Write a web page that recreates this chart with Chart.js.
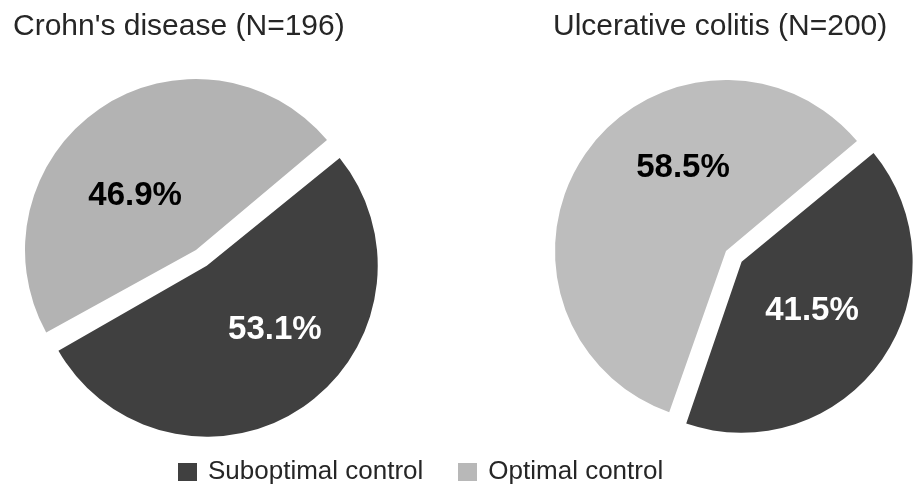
<!DOCTYPE html>
<html>
<head>
<meta charset="utf-8">
<script src="https://cdn.jsdelivr.net/npm/chart.js@4"></script>
<style>
  html, body { margin: 0; padding: 0; background: #ffffff; }
  #figure { position: relative; width: 917px; height: 484px; overflow: hidden;
            font-family: "Liberation Sans", Arial, sans-serif; color: #262626; }
  .panel { position: absolute; top: 0; }
  .panel-title { position: absolute; top: 10px; font-size: 30px; line-height: 30px; white-space: nowrap; }
  #legend { position: absolute; top: 457px; left: 178px; display: flex; align-items: center;
            font-size: 26px; line-height: 26px; white-space: nowrap; }
  .legend-item { display: flex; align-items: center; margin-right: 35px; }
  .legend-box { width: 19px; height: 18px; margin-right: 11px; margin-top: 4px; }
</style>
</head>
<body>
<div id="figure">
  <div class="panel" style="left:0px;"><canvas id="cdChart" width="458" height="484"></canvas></div>
  <div class="panel" style="left:458px;"><canvas id="ucChart" width="459" height="484"></canvas></div>
  <div class="panel-title" id="cdTitle" style="left:13px;"></div>
  <div class="panel-title" id="ucTitle" style="left:553px;"></div>
  <div id="legend"></div>
</div>
<script>
// Categories and percentages for each disease group
const categories = ['Suboptimal control', 'Optimal control'];
const cdValues = [53.1, 46.9];
const ucValues = [41.5, 58.5];
const panelTitles = ["Crohn's disease (N=196)", 'Ulcerative colitis (N=200)'];

// Styling
const darkGrey = '#404040';
const cdColors = [darkGrey, '#b3b3b3'];
const ucColors = [darkGrey, '#bdbdbd'];
const legendColors = [darkGrey, '#b8b8b8'];
const labelColors = ['#ffffff', '#000000'];
const PIE_RADIUS = 171;
const EXPLODE = 76;            // Chart.js translates an arc by offset / 4

// Keeps the exploded wedge at the same radius as the other one and
// writes the percentage inside each wedge.
const sliceLabels = {
  id: 'sliceLabels',
  beforeDatasetDraw(chart, args) {
    args.meta.data.forEach(arc => {
      const shift = (arc.options.offset || 0) / 4;
      const fix = 1 - Math.sin(Math.min(Math.PI, arc.circumference));
      arc.outerRadius = PIE_RADIUS - shift * fix;
    });
  },
  afterDatasetsDraw(chart, args, opts) {
    const ctx = chart.ctx;
    const meta = chart.getDatasetMeta(0);
    const values = chart.data.datasets[0].data;
    ctx.save();
    ctx.font = 'bold 33px "Liberation Sans", Arial, sans-serif';
    ctx.textAlign = 'center';
    ctx.textBaseline = 'middle';
    meta.data.forEach((arc, i) => {
      const p = opts.placement[i];
      const a = p.angle * Math.PI / 180;
      const x = arc.x + Math.cos(a) * p.dist * PIE_RADIUS;
      const y = arc.y + Math.sin(a) * p.dist * PIE_RADIUS;
      ctx.fillStyle = labelColors[i];
      ctx.fillText(values[i].toFixed(1) + '%', x, y);
    });
    ctx.restore();
  }
};

function makePie(canvasId, values, colors, padding, placement) {
  return new Chart(document.getElementById(canvasId), {
    type: 'pie',
    data: {
      labels: categories,
      datasets: [{
        data: values,
        backgroundColor: colors,
        borderWidth: 0,
        offset: [EXPLODE, 0],
        hoverOffset: 0,
        clip: false
      }]
    },
    options: {
      responsive: false,
      animation: false,
      events: [],
      rotation: 50,
      radius: PIE_RADIUS,
      layout: { padding: padding },
      plugins: {
        legend: { display: false },
        tooltip: { enabled: false },
        title: { display: false },
        sliceLabels: { placement: placement }
      }
    },
    plugins: [sliceLabels]
  });
}

makePie('cdChart', cdValues, cdColors,
  { left: 0, right: 66, top: 16, bottom: 0 },
  [{ angle: 45.4, dist: 0.657 }, { angle: -138.2, dist: 0.478 }]);

makePie('ucChart', ucValues, ucColors,
  { left: 77, right: 0, top: 18, bottom: 0 },
  [{ angle: 34.9, dist: 0.613 }, { angle: -117.4, dist: 0.547 }]);

document.getElementById('cdTitle').textContent = panelTitles[0];
document.getElementById('ucTitle').textContent = panelTitles[1];

// Shared legend built from the category list
const legend = document.getElementById('legend');
categories.forEach((name, i) => {
  const item = document.createElement('div');
  item.className = 'legend-item';
  const box = document.createElement('div');
  box.className = 'legend-box';
  box.style.background = legendColors[i];
  const text = document.createElement('span');
  text.textContent = name;
  item.appendChild(box);
  item.appendChild(text);
  legend.appendChild(item);
});
</script>
</body>
</html>
